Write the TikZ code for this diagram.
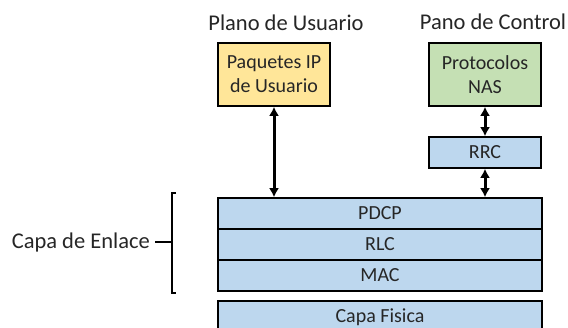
\documentclass[tikz,border=0pt]{standalone}
\usepackage{fontspec}
\setmainfont{Carlito}
\usetikzlibrary{arrows.meta}
\definecolor{capaazul}{HTML}{BDD7EE}
\definecolor{capaamarilla}{HTML}{FFE699}
\definecolor{capaverde}{HTML}{C5E0B4}
\definecolor{texto}{HTML}{262626}
\begin{document}
\begin{tikzpicture}[x=1pt, y=-1pt, capa/.style = {draw, line width=1.6pt, fill=capaazul, text=texto, inner sep=0pt, align=center, font=\fontsize{20}{24}\selectfont}, titulo/.style = {text=texto, inner sep=0pt, font=\fontsize{22.5}{26}\selectfont}, flecha/.style = {<->, line width=3pt}, >={Latex[length=9pt,width=10pt]}]
				\useasboundingbox (0,0) rectangle (568,327);
				\clip (0,0) rectangle (568,327);
				\node[titulo] (tusuario) at (286,23) {Plano de Usuario};
				\node[titulo] (tcontrol) at (493,22) {Pano de Control};
				\node[capa, fill=capaamarilla, minimum width=112pt, minimum height=63pt] (usuario) at (274,74.5) {Paquetes IP\\de Usuario};
				\node[capa, fill=capaverde, minimum width=112pt, minimum height=63pt] (nas) at (485,74.5) {Protocolos\\NAS};
				\node[capa, minimum width=112pt, minimum height=31pt] (rrc) at (485,152.5) {RRC};
				\node[capa, minimum width=324pt, minimum height=31pt] (pdcp) at (380,213.5) {PDCP};
				\node[capa, minimum width=324pt, minimum height=31pt] (rlc) at (380,244.5) {RLC};
				\node[capa, minimum width=324pt, minimum height=31pt] (mac) at (380,275.5) {MAC};
				\node[capa, minimum width=324pt, minimum height=32pt] (fisica) at (380,317) {Capa Fisica};
				\draw[flecha] (usuario.south) -- (usuario.south |- pdcp.north);
				\draw[flecha] (nas.south) -- (rrc.north);
				\draw[flecha] (rrc.south) -- (rrc.south |- pdcp.north);
				\node[titulo, anchor=east] (enlace) at (150,242) {Capa de Enlace};
				\coordinate (llave) at (172,242);
				\draw[line width=2.8pt] (176,193) -- (172,193) -- (172,293) -- (176,293);
				\draw[line width=2.8pt] (enlace.east) ++(5,0) -- (llave);
			\end{tikzpicture}
\end{document}
